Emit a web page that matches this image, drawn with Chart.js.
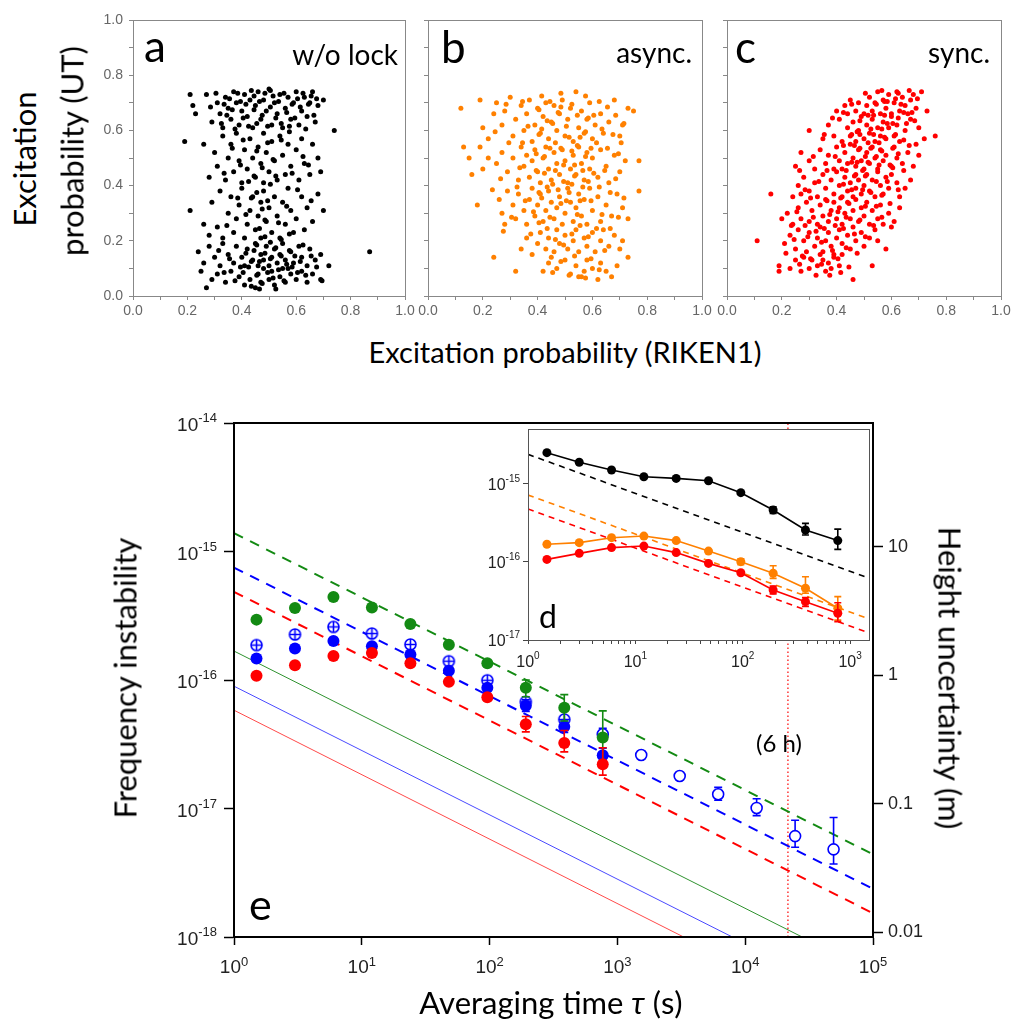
<!DOCTYPE html>
<html>
<head>
<meta charset="utf-8">
<script src="https://cdn.jsdelivr.net/npm/chart.js@4.4.1/dist/chart.umd.min.js"></script>
<style>
  body { margin: 0; background: #fff; }
  #wrap { position: relative; width: 1013px; height: 1021px; overflow: hidden; background: #fff; font-family: Lato, 'Open Sans', sans-serif; color: #000; }
  #wrap canvas { position: absolute; }
  .t { position: absolute; white-space: nowrap; line-height: 1; }
</style>
</head>
<body>
<div id="wrap">
  <canvas id="pa" width="350" height="330" style="left:70px;top:0;width:350px;height:330px"></canvas>
  <canvas id="pb" width="345" height="330" style="left:375px;top:0;width:345px;height:330px"></canvas>
  <canvas id="pc" width="340" height="330" style="left:673px;top:0;width:340px;height:330px"></canvas>
  <canvas id="pe" width="900" height="621" style="left:100px;top:400px;width:900px;height:621px"></canvas>
  <canvas id="pd" width="410" height="270" style="left:470px;top:410px;width:410px;height:270px"></canvas>

  <div class="t" style="left:23.6px;top:159px;font-size:31px;transform:translate(-50%,-50%) rotate(-90deg)">Excitation</div>
  <div class="t" style="left:72px;top:151px;font-size:31px;transform:translate(-50%,-50%) rotate(-90deg)">probability (UT)</div>
  <div class="t" style="left:565px;top:337px;font-size:29px;transform:translateX(-50%)">Excitation probability (RIKEN1)</div>

  <div class="t" style="left:144px;top:23px;font-size:44px">a</div>
  <div class="t" style="right:615px;top:40px;font-size:28px">w/o lock</div>
  <div class="t" style="left:441px;top:24px;font-size:44px">b</div>
  <div class="t" style="right:321px;top:38px;font-size:28px">async.</div>
  <div class="t" style="left:735px;top:24px;font-size:44px">c</div>
  <div class="t" style="right:23px;top:38px;font-size:28px">sync.</div>

  <div class="t" style="left:125px;top:678px;font-size:31px;transform:translate(-50%,-50%) rotate(-90deg)">Frequency instability</div>
  <div class="t" style="left:950px;top:678px;font-size:31px;transform:translate(-50%,-50%) rotate(90deg)">Height uncertainty (m)</div>
  <div class="t" style="left:551px;top:987px;font-size:31px;transform:translateX(-50%)">Averaging time <i>τ</i> (s)</div>
  <div class="t" style="left:249px;top:882px;font-size:43px">e</div>
  <div class="t" style="left:539px;top:600px;font-size:32px">d</div>
  <div class="t" style="left:756px;top:731px;font-size:24px">(6 h)</div>
</div>

<script>
const panelA = [
  [.27,.03],[.29,.06],[.31,.08],[.34,.05],[.36,.09],[.39,.07],[.41,.04],[.43,.06],[.45,.03],[.46,.08],
  [.47,.05],[.48,.10],[.50,.06],[.51,.09],[.52,.04],[.54,.07],[.55,.10],[.56,.05],[.58,.08],[.60,.06],
  [.62,.09],[.64,.05],[.66,.08],[.69,.06],[.25,.09],
  [.24,.16],[.26,.12],[.28,.18],[.30,.14],[.32,.11],[.33,.19],[.35,.15],[.37,.12],[.38,.18],[.40,.14],
  [.41,.11],[.42,.17],[.44,.13],[.45,.19],[.46,.11],[.47,.15],[.48,.13],[.49,.18],[.50,.11],[.51,.14],
  [.52,.17],[.53,.12],[.54,.15],[.55,.19],[.56,.13],[.57,.10],[.58,.16],[.59,.12],[.61,.18],[.62,.14],
  [.64,.11],[.65,.17],[.67,.13],[.69,.15],[.72,.11],[.87,.16],
  [.26,.26],[.28,.22],[.29,.34],[.31,.25],[.32,.38],[.33,.21],[.35,.30],[.36,.36],[.37,.23],[.38,.28],
  [.39,.33],[.40,.39],[.41,.21],[.42,.26],[.43,.31],[.44,.36],[.45,.24],[.46,.29],[.47,.34],[.47,.21],
  [.48,.38],[.49,.27],[.50,.32],[.51,.23],[.52,.36],[.53,.29],[.54,.21],[.55,.34],[.56,.26],[.57,.39],
  [.58,.31],[.59,.23],[.60,.28],[.62,.36],[.63,.24],[.64,.32],[.66,.27],[.68,.37],[.70,.31],[.21,.31],
  [.28,.43],[.30,.52],[.31,.47],[.33,.58],[.34,.42],[.35,.50],[.36,.55],[.37,.45],[.38,.59],[.39,.49],
  [.40,.41],[.41,.53],[.42,.46],[.43,.57],[.44,.50],[.45,.43],[.46,.54],[.47,.48],[.48,.41],[.48,.59],
  [.49,.52],[.50,.45],[.51,.56],[.52,.49],[.53,.42],[.54,.58],[.55,.51],[.56,.44],[.57,.55],[.58,.47],
  [.60,.53],[.61,.42],[.62,.57],[.63,.48],[.65,.44],[.66,.55],[.68,.50],[.69,.45],[.19,.56],[.26,.55],
  [.21,.73],[.22,.69],[.23,.66],[.27,.73],[.29,.63],[.31,.70],[.32,.66],[.33,.61],[.34,.72],[.35,.68],
  [.36,.64],[.37,.74],[.38,.70],[.39,.62],[.40,.67],[.41,.73],[.42,.65],[.43,.71],[.44,.61],[.45,.69],
  [.46,.74],[.47,.64],[.48,.71],[.49,.67],[.50,.75],[.51,.62],[.52,.70],[.53,.66],[.54,.73],[.55,.61],
  [.56,.68],[.57,.72],[.58,.64],[.59,.70],[.60,.74],[.61,.62],[.62,.67],[.63,.72],[.64,.65],[.65,.70],
  [.66,.74],[.67,.63],[.68,.69],[.70,.71],[.74,.60],
  [.405,.085],[.415,.155],[.425,.105],[.435,.035],[.445,.165],[.455,.075],[.465,.125],[.475,.045],[.485,.155],[.495,.085],
  [.505,.135],[.515,.065],[.525,.175],[.535,.095],[.545,.145],[.555,.055],[.565,.115],[.575,.165],[.585,.105],[.595,.145],
  [.605,.085],[.615,.125],[.455,.185],[.505,.195],[.545,.205],[.485,.215],[.575,.225],[.435,.125],[.375,.055],[.355,.135],
  [.335,.085],[.315,.165],[.635,.075],[.655,.145],[.675,.105],[.695,.055],[.525,.025],[.465,.025],[.395,.105],[.625,.185],
  [.465,.245],[.485,.275],[.475,.315],[.495,.345],[.455,.375],[.505,.405],[.445,.435],[.475,.465],[.515,.495],[.455,.525],
  [.495,.555],[.535,.265],[.415,.295],[.565,.325],[.385,.355],[.605,.385],[.425,.415],[.585,.445],[.395,.475],[.625,.505],
  [.365,.535],[.545,.565],[.345,.255],[.655,.345],[.335,.445],[.645,.475],[.405,.565],[.575,.595],[.525,.435],[.435,.355],
  [.335,.695],[.345,.655],[.355,.715],[.375,.605],[.385,.735],[.405,.645],[.415,.695],[.425,.615],[.435,.745],[.445,.675],
  [.455,.625],[.465,.705],[.475,.655],[.485,.735],[.495,.615],[.505,.685],[.515,.725],[.525,.645],[.535,.705],[.545,.625],
  [.555,.735],[.565,.665],[.575,.615],[.585,.695],[.595,.645],[.605,.715],[.615,.685],[.625,.735],[.635,.605],[.645,.695],
  [.655,.725],[.665,.655],[.675,.715],[.285,.685],[.305,.735],[.325,.625],[.365,.675],[.395,.705],[.445,.725],[.505,.745]
];
const panelB = [
  [.32,.09],[.42,.09],[.44,.12],[.45,.14],[.47,.10],[.50,.13],[.52,.08],[.54,.11],[.55,.07],[.57,.09],
  [.58,.13],[.60,.10],[.62,.06],[.63,.12],[.65,.09],[.67,.07],[.69,.11],[.73,.14],[.24,.14],[.56,.07],
  [.34,.17],[.36,.21],[.38,.15],[.40,.19],[.41,.23],[.43,.17],[.44,.21],[.46,.16],[.47,.24],[.48,.19],
  [.50,.22],[.51,.17],[.53,.20],[.54,.24],[.55,.16],[.57,.21],[.58,.18],[.60,.23],[.61,.16],[.63,.20],
  [.64,.24],[.66,.18],[.68,.22],[.70,.17],[.71,.20],
  [.26,.35],[.27,.30],[.28,.26],[.29,.38],[.31,.33],[.32,.28],[.33,.37],[.35,.31],[.36,.26],[.37,.35],
  [.38,.39],[.39,.29],[.40,.33],[.41,.37],[.42,.27],[.43,.31],[.44,.38],[.45,.34],[.46,.28],[.47,.32],
  [.48,.36],[.49,.26],[.50,.30],[.51,.39],[.52,.34],[.53,.27],[.54,.32],[.55,.37],[.56,.29],[.57,.35],
  [.58,.26],[.59,.39],[.60,.31],[.62,.36],[.63,.27],[.65,.33],[.67,.29],[.69,.37],[.71,.32],[.73,.28],
  [.18,.33],
  [.13,.54],[.15,.50],[.16,.44],[.19,.54],[.20,.46],[.22,.50],[.25,.48],[.27,.52],[.29,.45],[.31,.50],
  [.33,.42],[.34,.54],[.35,.47],[.36,.51],[.37,.43],[.38,.49],[.39,.53],[.40,.45],[.41,.41],[.42,.50],
  [.43,.54],[.44,.46],[.45,.42],[.46,.52],[.47,.48],[.48,.44],[.49,.53],[.50,.49],[.51,.41],[.52,.46],
  [.53,.51],[.54,.44],[.55,.54],[.56,.48],[.57,.42],[.58,.52],[.59,.46],[.60,.50],[.62,.43],[.63,.53],
  [.65,.47],[.66,.41],[.68,.51],[.70,.45],[.72,.49],[.77,.49],[.77,.38],
  [.12,.68],[.19,.71],[.20,.61],[.22,.57],[.24,.66],[.25,.70],[.27,.62],[.28,.67],[.30,.72],[.31,.58],
  [.32,.64],[.34,.69],[.35,.60],[.36,.66],[.37,.71],[.38,.56],[.39,.62],[.40,.68],[.41,.59],[.42,.65],
  [.43,.70],[.44,.57],[.45,.63],[.46,.69],[.47,.60],[.48,.66],[.49,.71],[.50,.58],[.51,.64],[.52,.68],
  [.53,.56],[.54,.74],[.55,.61],[.56,.67],[.57,.59],[.58,.64],[.59,.70],[.60,.57],[.61,.62],[.63,.66],
  [.64,.59],[.66,.63],[.68,.71],[.70,.58],[.73,.68],[.75,.67],[.71,.62],
  [.385,.305],[.395,.455],[.405,.585],[.415,.355],[.425,.505],[.435,.635],[.445,.285],[.455,.405],[.465,.555],[.475,.665],
  [.485,.335],[.495,.475],[.505,.615],[.515,.375],[.525,.525],[.535,.435],[.545,.295],[.555,.575],[.565,.395],[.575,.505],
  [.585,.645],[.595,.345],[.605,.445],[.615,.555],[.625,.395],[.635,.605],[.525,.405],[.535,.475],[.545,.545],[.515,.575],
  [.505,.345],[.495,.415],[.485,.535],[.475,.385],[.465,.455],[.455,.625],[.445,.535],[.435,.395],[.425,.445],[.415,.605],
  [.405,.375],[.395,.515],[.555,.345],[.565,.455],[.575,.595],[.585,.415],[.595,.535],[.605,.655],[.545,.655],[.525,.695],
  [.485,.685],[.445,.705],[.405,.675],[.365,.615],[.345,.555],[.335,.465],[.325,.395],[.355,.345],[.645,.455],[.655,.535],
  [.665,.375],[.675,.585],[.685,.425],[.695,.515],[.635,.295],[.615,.245],[.585,.215],[.555,.255],[.525,.225],[.495,.185],
  [.465,.205],[.435,.245],[.405,.265],[.375,.225],[.645,.165],[.595,.135],[.535,.145],[.485,.125],[.625,.095],[.575,.065],
  [.515,.075],[.455,.085],[.665,.245],[.695,.285],[.715,.355],[.705,.555],[.715,.625],[.685,.655],[.655,.685],[.625,.705],
  [.575,.725],[.485,.735],[.415,.725],[.345,.705],[.285,.695],[.245,.595],[.265,.425],[.235,.385],[.295,.555],[.305,.285],
  [.275,.235]
];
const panelC = [
  [.19,.09],[.19,.11],[.23,.10],[.25,.13],[.27,.09],[.28,.14],[.30,.10],[.31,.13],[.33,.11],[.34,.15],
  [.36,.09],[.37,.12],[.38,.10],[.39,.14],[.41,.11],[.42,.15],[.46,.06],[.53,.11],[.35,.13],
  [.11,.20],[.21,.19],[.23,.22],[.25,.17],[.26,.24],[.28,.20],[.29,.16],[.30,.23],[.32,.18],[.33,.21],
  [.34,.25],[.35,.16],[.36,.20],[.37,.23],[.38,.18],[.39,.15],[.40,.21],[.41,.24],[.42,.19],[.44,.22],
  [.45,.17],[.46,.25],[.47,.20],[.49,.23],[.50,.18],[.52,.21],[.55,.20],[.58,.17],[.54,.24],
  [.20,.28],[.22,.30],[.24,.26],[.26,.32],[.27,.28],[.29,.34],[.30,.27],[.31,.31],[.33,.26],[.34,.33],
  [.35,.29],[.36,.35],[.37,.27],[.38,.31],[.39,.34],[.40,.28],[.41,.32],[.42,.26],[.43,.30],[.44,.34],
  [.45,.28],[.46,.31],[.47,.35],[.48,.27],[.49,.32],[.50,.29],[.51,.34],[.52,.26],[.53,.31],[.55,.28],
  [.56,.33],[.57,.26],[.59,.30],[.61,.27],[.63,.32],[.60,.25],
  [.16,.37],[.24,.36],[.26,.40],[.28,.43],[.30,.38],[.32,.41],[.33,.36],[.35,.44],[.36,.39],[.38,.42],
  [.39,.37],[.40,.45],[.41,.40],[.42,.36],[.43,.43],[.44,.38],[.45,.41],[.46,.36],[.47,.44],[.47,.39],
  [.48,.42],[.49,.37],[.50,.40],[.51,.44],[.52,.38],[.53,.42],[.54,.36],[.55,.45],[.56,.40],[.57,.37],
  [.58,.43],[.59,.39],[.60,.44],[.62,.41],[.63,.36],[.65,.39],[.67,.42],[.27,.37],
  [.25,.47],[.27,.52],[.30,.49],[.32,.46],[.34,.53],[.36,.48],[.37,.51],[.39,.46],[.40,.54],[.41,.49],
  [.42,.46],[.43,.52],[.44,.48],[.45,.55],[.46,.50],[.47,.47],[.48,.53],[.49,.49],[.50,.46],[.51,.52],
  [.52,.48],[.53,.54],[.54,.50],[.55,.46],[.56,.53],[.57,.49],[.58,.51],[.60,.47],[.61,.54],[.62,.50],
  [.64,.48],[.66,.52],[.68,.47],[.70,.51],[.69,.55],
  [.30,.60],[.35,.57],[.37,.62],[.39,.58],[.41,.64],[.42,.56],[.44,.61],[.45,.58],[.46,.63],[.47,.56],
  [.48,.60],[.49,.65],[.50,.57],[.51,.62],[.52,.59],[.53,.64],[.54,.56],[.55,.61],[.56,.58],[.57,.63],
  [.58,.57],[.59,.61],[.60,.65],[.61,.58],[.62,.62],[.63,.56],[.65,.60],[.67,.64],[.70,.61],[.76,.58],
  [.72,.57],
  [.40,.67],[.43,.69],[.44,.66],[.45,.71],[.47,.67],[.48,.70],[.50,.66],[.51,.69],[.52,.72],[.53,.67],
  [.54,.70],[.55,.74],[.56,.66],[.57,.71],[.58,.68],[.59,.73],[.60,.66],[.61,.70],[.62,.74],[.63,.67],
  [.64,.72],[.65,.69],[.66,.66],[.67,.71],[.69,.68],[.71,.74],[.73,.67],[.68,.73],
  [.405,.305],[.415,.355],[.425,.405],[.435,.455],[.445,.335],[.455,.385],[.465,.435],[.475,.485],[.485,.535],[.495,.385],
  [.505,.435],[.515,.485],[.525,.535],[.535,.585],[.545,.415],[.555,.475],[.565,.525],[.575,.575],[.585,.625],[.595,.475],
  [.605,.535],[.615,.585],[.625,.645],[.635,.695],[.455,.485],[.465,.545],[.475,.595],[.485,.635],[.495,.455],[.505,.505],
  [.515,.555],[.525,.605],[.535,.655],[.545,.505],[.555,.555],[.565,.605],[.575,.655],[.585,.705],[.435,.285],[.425,.245],
  [.395,.255],[.375,.295],[.365,.345],[.355,.245],[.345,.195],[.325,.235],[.315,.285],[.295,.215],[.285,.255],[.275,.145],
  [.245,.205],[.265,.115],[.305,.135],[.345,.115],[.385,.165],[.405,.135],[.435,.175],[.465,.225],[.485,.275],[.505,.325],
  [.525,.375],[.545,.325],[.565,.365],[.585,.415],[.605,.465],[.625,.515],[.645,.565],[.655,.625],[.675,.665],[.695,.715],
  [.645,.665],[.615,.715],[.605,.625],[.575,.705],[.545,.695],[.515,.655],[.485,.585],[.455,.585],[.425,.545],[.395,.505],
  [.365,.455],[.335,.415],[.305,.355],[.285,.385],[.255,.305],[.235,.255],[.265,.455],[.315,.505],[.355,.585],[.385,.645],
  [.425,.665],[.455,.695],[.505,.735],[.565,.745],[.625,.735],[.665,.745],[.685,.635],[.665,.545],[.645,.455],[.625,.385],
  [.595,.335],[.565,.285],[.535,.255],[.505,.215],[.475,.155],[.445,.105],[.415,.085],[.375,.075],[.215,.155],[.325,.075]
];
const probTicks = [0, .1, .2, .3, .4, .5, .6, .7, .8, .9, 1];

// ---- panel e: Allan deviations ----
const tauE = [1.5, 3, 6, 12, 24, 48, 96, 192, 384, 768];
const greenE = [2.95e-16, 3.64e-16, 4.43e-16, 3.66e-16, 2.73e-16, 1.88e-16, 1.35e-16, 8.7e-17, 6.07e-17, 3.57e-17];
const greenLo = [null, null, null, null, null, null, null, 7.4e-17, 4.8e-17, 2.2e-17];
const greenHi = [null, null, null, null, null, null, null, 1.0e-16, 7.7e-17, 5.75e-17];
const blueE = [1.47e-16, 1.76e-16, 2.01e-16, 1.83e-16, 1.58e-16, 1.18e-16, 8.7e-17, 6.3e-17, 4.32e-17, 2.6e-17];
const blueLo = [null, null, null, null, null, null, null, 5.7e-17, 3.9e-17, 2.3e-17];
const blueHi = [null, null, null, null, null, null, null, 7.0e-17, 4.8e-17, 2.95e-17];
const redE = [1.08e-16, 1.30e-16, 1.54e-16, 1.62e-16, 1.35e-16, 9.67e-17, 7.35e-17, 4.53e-17, 3.24e-17, 2.21e-17];
const redLo = [null, null, null, null, null, null, null, 3.95e-17, 2.76e-17, 1.82e-17];
const redHi = [null, null, null, null, null, null, null, 5.2e-17, 4.05e-17, 2.97e-17];
const tauCross = [1.5, 3, 6, 12, 24, 48, 96, 192, 384];
const blueCross = [1.87e-16, 2.26e-16, 2.59e-16, 2.30e-16, 1.89e-16, 1.40e-16, 9.95e-17, 6.76e-17, 4.93e-17];
const tauOpen = [768, 1536, 3072, 6144, 12288, 24576, 49152];
const blueOpen = [3.78e-17, 2.61e-17, 1.79e-17, 1.29e-17, 1.01e-17, 6.1e-18, 4.81e-18];
const openLo = [3.4e-17, 2.45e-17, 1.68e-17, 1.16e-17, 8.8e-18, 5.0e-18, 3.7e-18];
const openHi = [4.2e-17, 2.8e-17, 1.9e-17, 1.46e-17, 1.19e-17, 8.1e-18, 8.5e-18];
// white-noise guides (dashed) and QPN limits (thin), end points
const tauFit = [1, 1e5];
const greenFit = [1.39e-15, 4.4e-18];
const blueFit = [7.5e-16, 2.37e-18];
const redFit = [4.85e-16, 1.53e-18];
const greenQpnTau = [1, 27900], greenQpn = [1.68e-16, 1e-18];
const blueQpnTau = [1, 7930], blueQpn = [8.95e-17, 1e-18];
const redQpnTau = [1, 3300], redQpn = [5.82e-17, 1e-18];
const sixHours = 21600;
const heightPerFrac = 9.17e15; // c^2/g in metres

// ---- panel d (inset) ----
const tauD = [1.5, 3, 6, 12, 24, 48, 96, 192, 384, 768];
const blackD = [2.52e-15, 1.90e-15, 1.51e-15, 1.24e-15, 1.18e-15, 1.10e-15, 7.74e-16, 4.64e-16, 2.57e-16, 1.88e-16];
const blackLo = [null, null, null, null, null, null, null, 4.2e-16, 2.22e-16, 1.45e-16];
const blackHi = [null, null, null, null, null, null, null, 5.1e-16, 3.13e-16, 2.64e-16];
const orangeD = [1.69e-16, 1.77e-16, 2.05e-16, 2.15e-16, 1.88e-16, 1.38e-16, 1.01e-16, 7.17e-17, 4.6e-17, 2.55e-17];
const orangeLo = [null, null, null, null, null, null, 9.2e-17, 6.17e-17, 3.97e-17, 1.8e-17];
const orangeHi = [null, null, null, null, null, null, 1.1e-16, 8.94e-17, 6.47e-17, 3.6e-17];
const redD = [1.08e-16, 1.29e-16, 1.53e-16, 1.60e-16, 1.32e-16, 9.6e-17, 7.29e-17, 4.38e-17, 3.1e-17, 2.2e-17];
const redDLo = [null, null, null, null, null, null, null, 3.9e-17, 2.7e-17, 1.72e-17];
const redDHi = [null, null, null, null, null, null, null, 4.9e-17, 3.5e-17, 3.0e-17];
const tauFitD = [1, 1500];
const blackFitD = [2.40e-15, 6.2e-17];
const orangeFitD = [7.22e-16, 1.86e-17];
const redFitD = [4.78e-16, 1.23e-17];

const GREEN = '#138a13', BLUE = '#0000ff', RED = '#ff0000', ORANGE = '#ff8000';
const tickFont = { family: "'Liberation Sans', Arial, sans-serif", size: 14 };

const framePlugin = {
  id: 'frame',
  beforeDraw(chart, args, opts) {
    if (!opts.fill) return;
    const a = chart.chartArea, ctx = chart.ctx;
    ctx.save();
    ctx.fillStyle = opts.fill;
    ctx.fillRect(a.left, a.top, a.right - a.left, a.bottom - a.top);
    ctx.restore();
  },
  afterDraw(chart, args, opts) {
    const a = chart.chartArea, ctx = chart.ctx;
    const o = (opts.width % 2) ? 0.5 : 0;
    ctx.save();
    ctx.strokeStyle = opts.color;
    ctx.lineWidth = opts.width;
    ctx.strokeRect(Math.round(a.left) + o, Math.round(a.top) + o, Math.round(a.right - a.left), Math.round(a.bottom - a.top));
    ctx.restore();
  }
};

const errBars = {
  id: 'errBars',
  beforeDatasetDraw(chart, args) {
    const ds = chart.data.datasets[args.index];
    if (!ds.errLo) return;
    const ctx = chart.ctx, xs = chart.scales.x, ys = chart.scales.y;
    ctx.save();
    ctx.strokeStyle = ds.errColor;
    ctx.lineWidth = 1.6;
    ds.data.forEach((p, i) => {
      if (ds.errLo[i] == null) return;
      const px = xs.getPixelForValue(p.x);
      const y1 = ys.getPixelForValue(ds.errHi[i]), y2 = ys.getPixelForValue(ds.errLo[i]);
      const cw = ds.capW;
      ctx.beginPath();
      ctx.moveTo(px, y1); ctx.lineTo(px, y2);
      ctx.moveTo(px - cw, y1); ctx.lineTo(px + cw, y1);
      ctx.moveTo(px - cw, y2); ctx.lineTo(px + cw, y2);
      ctx.stroke();
    });
    ctx.restore();
  }
};

// decade labels drawn as "10" + raised exponent
const expLabels = {
  id: 'expLabels',
  afterDraw(chart, args, o) {
    const ctx = chart.ctx, a = chart.chartArea;
    ctx.save();
    ctx.fillStyle = o.color;
    ctx.textAlign = 'left';
    ctx.textBaseline = 'alphabetic';
    const widths = e => {
      ctx.font = o.base; const bw = ctx.measureText('10').width;
      ctx.font = o.exp; const ew = ctx.measureText(String(e)).width;
      return [bw, ew];
    };
    o.yExp.forEach(e => {
      const py = chart.scales.y.getPixelForValue(Math.pow(10, e));
      const [bw, ew] = widths(e);
      const xEnd = a.left - o.yGap;
      ctx.font = o.base; ctx.fillText('10', xEnd - ew - bw, py + o.yBase);
      ctx.font = o.exp; ctx.fillText(String(e), xEnd - ew, py + o.yExpOff);
    });
    o.xExp.forEach(e => {
      const px = chart.scales.x.getPixelForValue(Math.pow(10, e));
      const [bw, ew] = widths(e);
      const x0 = px - (bw + ew) / 2;
      ctx.font = o.base; ctx.fillText('10', x0, a.bottom + o.xBase);
      ctx.font = o.exp; ctx.fillText(String(e), x0 + bw, a.bottom + o.xExpOff);
    });
    ctx.restore();
  }
};

const fixAxis = (size, horizontal) => s => {
  if (horizontal) s.height = size; else s.width = size;
  s.paddingLeft = 0; s.paddingRight = 0; s.paddingTop = 0; s.paddingBottom = 0;
};

function scatterPanel(id, pts, color, showY, yWidth, padRight) {
  const axisGrid = { display: true, drawOnChartArea: false, drawTicks: true, tickLength: 4, color: '#888' };
  return new Chart(document.getElementById(id), {
    type: 'scatter',
    data: {
      datasets: [{
        data: pts.map(p => ({ x: p[0], y: p[1] })),
        backgroundColor: color,
        borderWidth: 0,
        pointRadius: 2.5,
        pointHoverRadius: 2.5
      }]
    },
    options: {
      responsive: false,
      animation: false,
      events: [],
      layout: { padding: { top: 20, right: padRight, left: 0, bottom: 0 } },
      plugins: { legend: { display: false }, tooltip: { enabled: false }, frame: { color: '#888', width: 1 } },
      scales: {
        x: {
          type: 'linear', min: 0, max: 1,
          afterBuildTicks: s => { s.ticks = probTicks.map(v => ({ value: v })); },
          afterFit: fixAxis(34, true),
          ticks: { callback: v => (Math.round(v * 10) % 2 === 0 ? v.toFixed(1) : ''), font: tickFont, color: '#666', padding: 3, maxRotation: 0, autoSkip: false },
          grid: axisGrid,
          border: { color: '#888', width: 1 }
        },
        y: {
          type: 'linear', min: 0, max: 1,
          afterBuildTicks: s => { s.ticks = probTicks.map(v => ({ value: v })); },
          afterFit: fixAxis(yWidth, false),
          ticks: { callback: v => (showY && Math.round(v * 10) % 2 === 0 ? v.toFixed(1) : ''), font: tickFont, color: '#666', padding: 6, autoSkip: false },
          grid: axisGrid,
          border: { color: '#888', width: 1 }
        }
      }
    },
    plugins: [framePlugin]
  });
}

scatterPanel('pa', panelA, '#000000', true, 63, 15);
scatterPanel('pb', panelB, ORANGE, false, 53, 18);
scatterPanel('pc', panelC, RED, false, 54, 12);

const pts = (xs, ys) => xs.map((x, i) => ({ x, y: ys[i] }));
const lineDs = (xs, ys, color, width, dash, order) => ({
  data: pts(xs, ys), showLine: true, borderColor: color, borderWidth: width, borderDash: dash,
  pointRadius: 0, pointHoverRadius: 0, order
});
const markDs = (xs, ys, color, r, order, lo, hi) => ({
  data: pts(xs, ys), showLine: false, pointRadius: r, pointHoverRadius: r,
  pointBackgroundColor: color, pointBorderColor: color, pointBorderWidth: 0, order,
  errLo: lo, errHi: hi, errColor: color, capW: 4
});

function crossCircle(r, color) {
  const c = document.createElement('canvas');
  const s = Math.ceil(2 * r + 4);
  c.width = s; c.height = s;
  const g = c.getContext('2d'), m = s / 2;
  g.fillStyle = '#fff'; g.strokeStyle = color; g.lineWidth = 1.6;
  g.beginPath(); g.arc(m, m, r, 0, 2 * Math.PI); g.fill(); g.stroke();
  g.beginPath(); g.moveTo(m - r, m); g.lineTo(m + r, m); g.moveTo(m, m - r); g.lineTo(m, m + r); g.stroke();
  return c;
}

const logTicks = vals => s => { s.ticks = vals.map(v => ({ value: v })); };
const blankTicks = { callback: () => '' };

new Chart(document.getElementById('pe'), {
  type: 'scatter',
  data: {
    datasets: [
      lineDs([sixHours, sixHours], [1e-18, 1e-14], RED, 1.2, [1.5, 2.5], 30),
      lineDs(greenQpnTau, greenQpn, '#2f922f', 1, [], 29),
      lineDs(blueQpnTau, blueQpn, '#4a4aff', 1, [], 28),
      lineDs(redQpnTau, redQpn, '#ff4a4a', 1, [], 27),
      lineDs(tauFit, greenFit, GREEN, 2, [10, 8], 26),
      lineDs(tauFit, blueFit, BLUE, 2, [10, 8], 25),
      lineDs(tauFit, redFit, RED, 2, [10, 8], 24),
      Object.assign(markDs(tauOpen, blueOpen, BLUE, 5.5, 8, openLo, openHi), { pointBackgroundColor: '#fff', pointBorderWidth: 1.6 }),
      Object.assign(markDs(tauCross, blueCross, BLUE, 6, 7), { pointStyle: crossCircle(5.5, BLUE) }),
      markDs(tauE, blueE, BLUE, 6, 6, blueLo, blueHi),
      markDs(tauE, greenE, GREEN, 6, 5, greenLo, greenHi),
      markDs(tauE, redE, RED, 6, 4, redLo, redHi)
    ]
  },
  options: {
    responsive: false,
    animation: false,
    events: [],
    layout: { padding: { top: 23, right: 0, left: 0, bottom: 0 } },
    plugins: {
      legend: { display: false }, tooltip: { enabled: false },
      frame: { color: '#000', width: 2 },
      expLabels: {
        color: '#222', base: "19px 'Liberation Sans', Arial, sans-serif", exp: "13px 'Liberation Sans', Arial, sans-serif",
        yExp: [-18, -17, -16, -15, -14], yGap: 17, yBase: 8, yExpOff: -1,
        xExp: [0, 1, 2, 3, 4, 5], xBase: 36, xExpOff: 29
      }
    },
    scales: {
      x: {
        type: 'logarithmic', min: 1, max: 1e5,
        afterBuildTicks: logTicks([1, 10, 100, 1e3, 1e4, 1e5]),
        afterFit: fixAxis(84, true),
        ticks: blankTicks,
        grid: { drawOnChartArea: false, tickLength: 8, color: '#000', tickWidth: 1.5 },
        border: { color: '#000', width: 2 }
      },
      y: {
        type: 'logarithmic', min: 1e-18, max: 1e-14,
        afterBuildTicks: logTicks([1e-18, 1e-17, 1e-16, 1e-15, 1e-14]),
        afterFit: fixAxis(134, false),
        ticks: blankTicks,
        grid: { drawOnChartArea: false, tickLength: 10, color: '#000', tickWidth: 1.5 },
        border: { color: '#000', width: 2 }
      },
      y2: {
        type: 'logarithmic', position: 'right',
        min: 1e-18 * heightPerFrac, max: 1e-14 * heightPerFrac,
        afterBuildTicks: logTicks([0.01, 0.1, 1, 10]),
        afterFit: fixAxis(127, false),
        ticks: { callback: v => String(v), font: { family: "'Liberation Sans', Arial, sans-serif", size: 18 }, color: '#222', padding: 5 },
        grid: { drawOnChartArea: false, tickLength: 10, color: '#000', tickWidth: 1.5 },
        border: { color: '#000', width: 2 }
      }
    }
  },
  plugins: [framePlugin, errBars, expLabels]
});

const insetMinor = [1, 2, 3, 4, 5, 6, 7, 8, 9, 10, 20, 30, 40, 50, 60, 70, 80, 90, 100, 200, 300, 400, 500, 600, 700, 800, 900, 1000];
const connDs = (ys, color, order, lo, hi) => ({
  data: pts(tauD, ys), showLine: true, borderColor: color, borderWidth: 1.6,
  pointRadius: 4.5, pointHoverRadius: 4.5, pointBackgroundColor: color, pointBorderWidth: 0, order,
  errLo: lo, errHi: hi, errColor: color, capW: 3.5
});

new Chart(document.getElementById('pd'), {
  type: 'scatter',
  data: {
    datasets: [
      lineDs(tauFitD, blackFitD, '#000', 1.6, [6, 5], 20),
      lineDs(tauFitD, orangeFitD, ORANGE, 1.6, [6, 5], 19),
      lineDs(tauFitD, redFitD, RED, 1.6, [6, 5], 18),
      connDs(blackD, '#000', 3, blackLo, blackHi),
      connDs(orangeD, ORANGE, 2, orangeLo, orangeHi),
      connDs(redD, RED, 1, redDLo, redDHi)
    ]
  },
  options: {
    responsive: false,
    animation: false,
    events: [],
    layout: { padding: { top: 19, right: 11, left: 0, bottom: 0 } },
    plugins: {
      legend: { display: false }, tooltip: { enabled: false },
      frame: { color: '#555', width: 1, fill: '#fff' },
      expLabels: {
        color: '#222', base: "16px 'Liberation Sans', Arial, sans-serif", exp: "10px 'Liberation Sans', Arial, sans-serif",
        yExp: [-17, -16, -15], yGap: 8, yBase: 6, yExpOff: -2,
        xExp: [0, 1, 2, 3], xBase: 27, xExpOff: 19
      }
    },
    scales: {
      x: {
        type: 'logarithmic', min: 1, max: 1500,
        afterBuildTicks: logTicks(insetMinor),
        afterFit: fixAxis(40, true),
        ticks: blankTicks,
        grid: { drawOnChartArea: false, tickLength: 4, color: '#444' },
        border: { color: '#444', width: 1 }
      },
      y: {
        type: 'logarithmic', min: 1e-17, max: 5.07e-15,
        afterBuildTicks: logTicks([1e-17, 1e-16, 1e-15]),
        afterFit: fixAxis(58, false),
        ticks: blankTicks,
        grid: { drawOnChartArea: false, tickLength: 5, color: '#444' },
        border: { color: '#444', width: 1 }
      }
    }
  },
  plugins: [framePlugin, errBars, expLabels]
});
</script>
</body>
</html>
